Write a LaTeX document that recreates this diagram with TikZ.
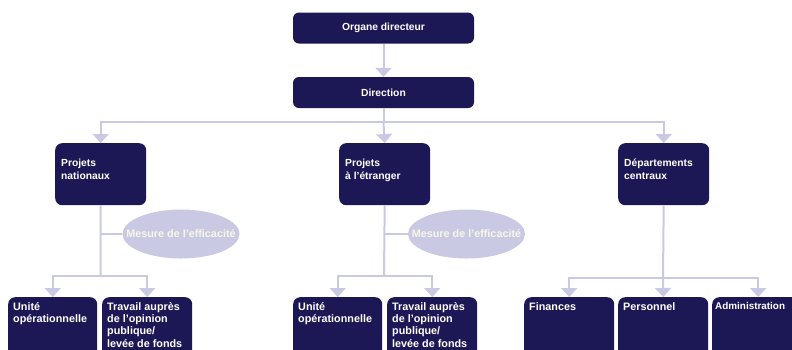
\documentclass[tikz,border=0pt]{standalone}
\usepackage{fontspec}
\setmainfont{Liberation Sans}
\usetikzlibrary{arrows.meta,shapes.geometric}

\definecolor{navy}{HTML}{1C1856}
\definecolor{lav}{HTML}{C9C9E3}
\definecolor{cream}{HTML}{F7F7E8}

\tikzset{
  x=1pt, y=-1pt,
  boxfont/.style={font=\bfseries\fontsize{10.3}{12.8}\selectfont},
  lowfont/.style={font=\bfseries\fontsize{10.8}{12.3}\selectfont},
  topbox/.style={boxfont, fill=navy, text=white, rounded corners=6pt,
    inner sep=0pt, minimum width=181pt, minimum height=31pt},
  midbox/.style={boxfont, fill=navy, text=white, rounded corners=7pt,
    anchor=north west, inner xsep=6pt, inner ysep=16pt, align=left},
  lowbox/.style={lowfont, fill=navy, text=white, rounded corners=7pt,
    anchor=north west, inner xsep=5pt, inner ysep=5pt, align=left},
  effect/.style={ellipse, fill=lav, text=cream, inner sep=0pt,
    font=\bfseries\fontsize{10.8}{12}\selectfont,
    minimum width=117pt, minimum height=49pt},
  link/.style={draw=lav, line width=2pt},
  conn/.style={link, -{Triangle[width=16pt,length=9pt]}},
}
% label of fixed size zero, so the ellipse keeps its given dimensions
\newcommand{\efftext}[1]{\makebox[0pt]{#1}}

\begin{document}
\begin{tikzpicture}
\useasboundingbox (0,0) rectangle (792,349);
\clip (0,0) rectangle (792,349);

% governing levels
\node[topbox] (org) at (383.5,28) {Organe directeur};
\node[topbox] (dir) at (383.5,92.5) {Direction};

% divisions
\node[midbox] (pn) at (55,143)
  {\parbox[t][30pt][t]{79pt}{Projets\\nationaux}};
\node[midbox] (pe) at (339,143)
  {\parbox[t][30pt][t]{79pt}{Projets\\à l’étranger}};
\node[midbox] (dc) at (618,143)
  {\parbox[t][30pt][t]{79pt}{Départements\\centraux}};

% effectiveness measurement
\node[effect] (eff1) at (181,234) {\efftext{Mesure de l’efficacité}};
\node[effect] (eff2) at (466.5,234) {\efftext{Mesure de l’efficacité}};

% units, national projects
\node[lowbox] (u1) at (8,297)
  {\parbox[t][60pt][t]{79pt}{Unité\\opérationnelle}};
\node[lowbox] (t1) at (102,297)
  {\parbox[t][60pt][t]{80pt}{Travail auprès\\de l’opinion\\publique/\\levée de fonds}};

% units, projects abroad
\node[lowbox] (u2) at (293,297)
  {\parbox[t][60pt][t]{79pt}{Unité\\opérationnelle}};
\node[lowbox] (t2) at (387,297)
  {\parbox[t][60pt][t]{80pt}{Travail auprès\\de l’opinion\\publique/\\levée de fonds}};

% central departments
\node[lowbox] (fin) at (524,297)
  {\parbox[t][60pt][t]{80pt}{Finances}};
\node[lowbox] (per) at (618,297)
  {\parbox[t][60pt][t]{80pt}{Personnel}};
\node[lowbox, inner xsep=3pt, font=\bfseries\fontsize{9.9}{12.3}\selectfont]
  (adm) at (712,297)
  {\parbox[t][60pt][t]{86pt}{Administration}};

% branching points
\coordinate (busA) at (383.5,122);
\coordinate (busB) at (100.5,276);
\coordinate (busC) at (384,276);
\coordinate (busD) at (663,278);

% connectors
\draw[conn] (org.south) -- (dir.north);
\draw[link] (dir.south) -- (busA);
\draw[conn] (busA) -| (pn.north);
\draw[conn] (busA) -- (pe.north);
\draw[conn] (busA) -| (dc.north);

\draw[link] (pn.south) -- (busB);
\draw[link] (pn.south |- eff1.west) -- (eff1.west);
\draw[conn] (busB) -| (u1.north);
\draw[conn] (busB) -| (t1.north);

\draw[link] (pe.south) -- (busC);
\draw[link] (pe.south |- eff2.west) -- (eff2.west);
\draw[conn] (busC) -| (u2.north);
\draw[conn] (busC) -| (t2.north);

\draw[link] (dc.south) -- (busD);
\draw[conn] (busD) -| (fin.north);
\draw[conn] (busD) -- (per.north);
\draw[conn] (busD) -| (adm.north);
\end{tikzpicture}
\end{document}
